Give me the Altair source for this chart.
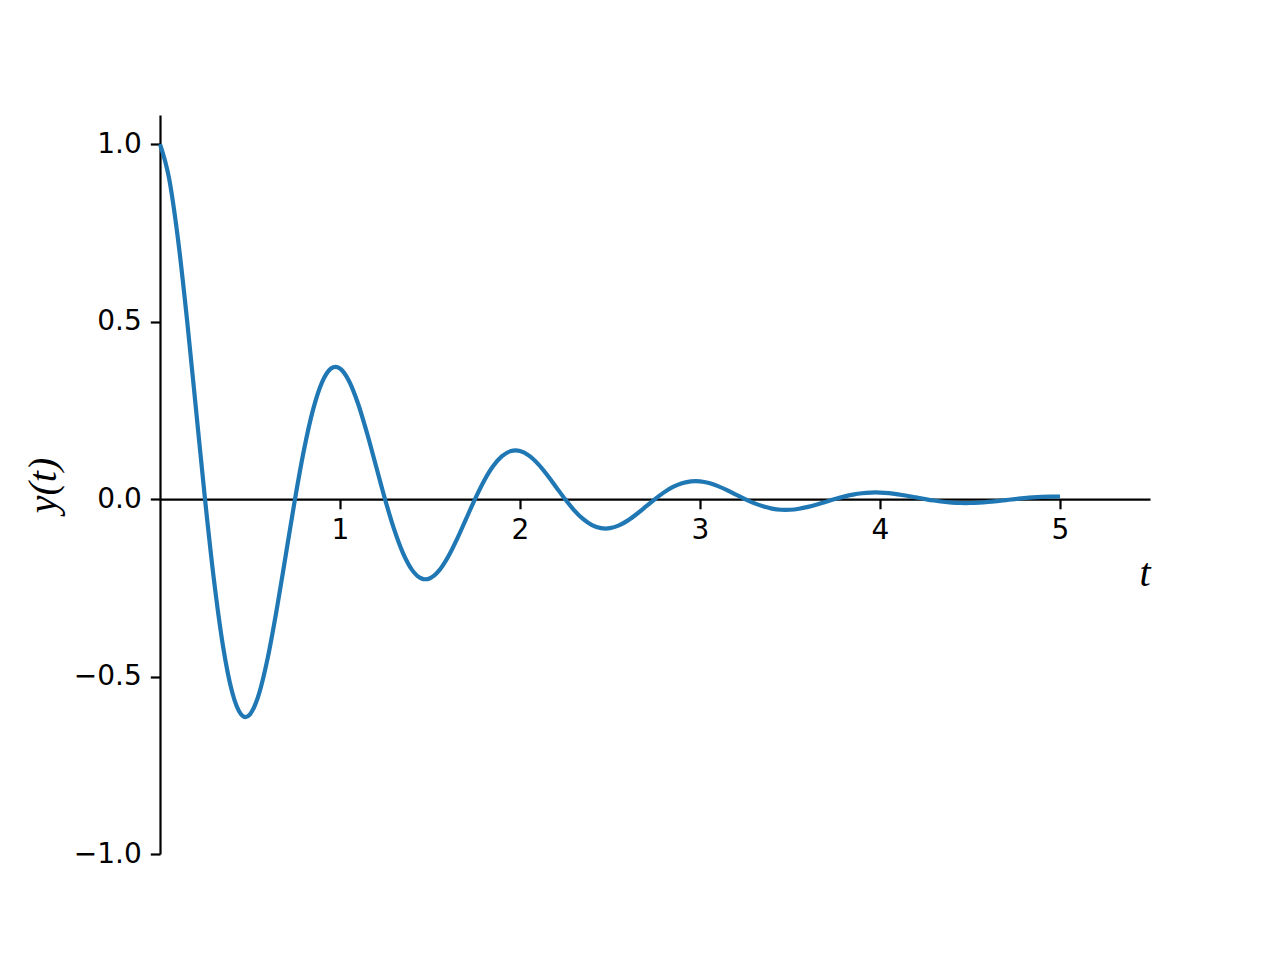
import altair as alt
import pandas as pd

t_values = [
    0.00, 0.05, 0.10, 0.15, 0.20, 0.25, 0.30, 0.35, 0.40, 0.45, 0.475, 0.50,
    0.55, 0.60, 0.65, 0.70, 0.75, 0.80, 0.85, 0.90, 0.95, 0.975, 1.00,
    1.05, 1.10, 1.15, 1.20, 1.25, 1.30, 1.35, 1.40, 1.45, 1.475, 1.50,
    1.55, 1.60, 1.65, 1.70, 1.75, 1.80, 1.85, 1.90, 1.95, 1.975, 2.00,
    2.05, 2.10, 2.15, 2.20, 2.25, 2.30, 2.35, 2.40, 2.45, 2.475, 2.50,
    2.55, 2.60, 2.65, 2.70, 2.75, 2.80, 2.85, 2.90, 2.95, 2.975, 3.00,
    3.05, 3.10, 3.15, 3.20, 3.25, 3.30, 3.35, 3.40, 3.45, 3.475, 3.50,
    3.55, 3.60, 3.65, 3.70, 3.75, 3.80, 3.85, 3.90, 3.95, 3.975, 4.00,
    4.05, 4.10, 4.15, 4.20, 4.25, 4.30, 4.35, 4.40, 4.45, 4.475, 4.50,
    4.55, 4.60, 4.65, 4.70, 4.75, 4.80, 4.85, 4.90, 4.95, 5.00,
]
y_values = [
    1.0000, 0.9047, 0.7320, 0.5059, 0.2530, 0.0000, -0.2289, -0.4142, -0.5423, -0.6064, -0.6144, -0.6065,
    -0.5487, -0.4440, -0.3069, -0.1535, 0.0000, 0.1389, 0.2512, 0.3289, 0.3678, 0.3726, 0.3679,
    0.3328, 0.2693, 0.1861, 0.0931, 0.0000, -0.0842, -0.1524, -0.1995, -0.2231, -0.2260, -0.2231,
    -0.2019, -0.1633, -0.1129, -0.0565, 0.0000, 0.0511, 0.0924, 0.1210, 0.1353, 0.1371, 0.1353,
    0.1224, 0.0991, 0.0685, 0.0342, 0.0000, -0.0310, -0.0561, -0.0734, -0.0821, -0.0831, -0.0821,
    -0.0743, -0.0601, -0.0415, -0.0208, 0.0000, 0.0188, 0.0340, 0.0445, 0.0498, 0.0504, 0.0498,
    0.0450, 0.0364, 0.0252, 0.0126, 0.0000, -0.0114, -0.0206, -0.0270, -0.0302, -0.0306, -0.0302,
    -0.0273, -0.0221, -0.0153, -0.0076, 0.0000, 0.0069, 0.0125, 0.0164, 0.0183, 0.0186, 0.0183,
    0.0166, 0.0134, 0.0093, 0.0046, 0.0000, -0.0042, -0.0076, -0.0099, -0.0111, -0.0113, -0.0111,
    -0.0100, -0.0081, -0.0056, -0.0028, 0.0000, 0.0025, 0.0046, 0.0060, 0.0067, 0.0067,
]
x_ticks = [1, 2, 3, 4, 5]
y_ticks = [-1.0, -0.5, 0.0, 0.5, 1.0]

df = pd.DataFrame({"t": t_values, "y": y_values})

W = 990
H = 739
y_min, y_max = -1.0, 1.082
zero_from_bottom = H * (0 - y_min) / (y_max - y_min)

chart = (
    alt.Chart(df)
    .mark_line(color="#1f77b4", strokeWidth=4.2, interpolate="monotone", clip=False)
    .encode(
        x=alt.X(
            "t:Q",
            scale=alt.Scale(domain=[0, 5.5], nice=False, zero=False),
            axis=alt.Axis(
                values=x_ticks,
                format="d",
                offset=-zero_from_bottom,
                grid=False,
                domainColor="black",
                domainWidth=2.2,
                tickColor="black",
                tickWidth=2.2,
                tickSize=9.7,
                labelFont="DejaVu Sans",
                labelFontSize=28,
                labelColor="black",
                labelPadding=8,
                title="t",
                titleFont="Liberation Serif",
                titleFontStyle="italic",
                titleFontWeight="normal",
                titleFontSize=40,
                titleColor="black",
                titleX=990,
                titleY=86,
                titleAlign="right",
                titleBaseline="alphabetic",
                titleAnchor="end",
            ),
        ),
        y=alt.Y(
            "y:Q",
            scale=alt.Scale(domain=[y_min, y_max], nice=False, zero=False),
            axis=alt.Axis(
                values=y_ticks,
                format=".1f",
                grid=False,
                domainColor="black",
                domainWidth=2.2,
                tickColor="black",
                tickWidth=2.2,
                tickSize=9.7,
                labelFont="DejaVu Sans",
                labelFontSize=28,
                labelColor="black",
                labelPadding=9,
                title="y(t)",
                titleFont="Liberation Serif",
                titleFontStyle="italic",
                titleFontWeight="normal",
                titleFontSize=40,
                titleColor="black",
                titleAngle=270,
                titleX=-117,
                titleY=370,
                titleAlign="center",
                titleBaseline="middle",
            ),
        ),
    )
    .properties(
        width=W,
        height=H,
        autosize=alt.AutoSizeParams(type="none"),
        padding={"left": 152, "top": 107, "right": 120, "bottom": 107},
    )
    .configure(background="white")
    .configure_view(strokeWidth=0, stroke="transparent")
)

chart.save("out.html", embed_options={"renderer": "svg", "actions": False})
